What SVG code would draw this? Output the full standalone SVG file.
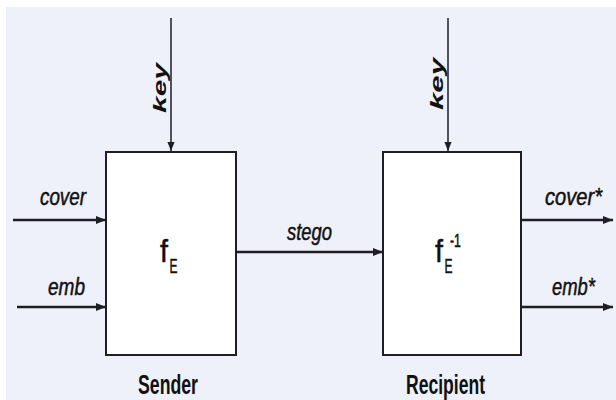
<svg xmlns="http://www.w3.org/2000/svg" width="616" height="400" viewBox="0 0 616 400">
<defs>
<marker id="ah" viewBox="0 0 10 10" refX="10" refY="5" markerWidth="4" markerHeight="4" markerUnits="strokeWidth" orient="auto"><path d="M0,1 L10,5 L0,9 Z" fill="#1e1e24"/></marker>
<marker id="ahk" viewBox="0 0 10 10" refX="10" refY="5" markerWidth="6" markerHeight="6" markerUnits="strokeWidth" orient="auto"><path d="M0,1 L10,5 L0,9 Z" fill="#1e1e24"/></marker>
</defs>
<style>
.box{fill:#ffffff;stroke:#1e1e24;stroke-width:2}
.ln{stroke:#1e1e24;stroke-width:2.5;fill:none;marker-end:url(#ah)}
.kl{stroke:#1e1e24;stroke-width:1.5;fill:none;marker-end:url(#ahk)}
.lb{font-family:"Liberation Sans",Arial,sans-serif;font-style:italic;font-size:24px;fill:#111;stroke:#111;stroke-width:0.5}
.kt{font-family:"Liberation Sans",Arial,sans-serif;font-style:italic;font-weight:bold;font-size:19px;fill:#111}
.nm{font-family:"Liberation Sans",Arial,sans-serif;font-weight:bold;font-size:27px;fill:#111}
.fn{font-family:"Liberation Sans",Arial,sans-serif;fill:#111;stroke:#111;stroke-width:0.5}
</style>
<rect x="0" y="0" width="616" height="400" fill="#ffffff"/>
<rect x="6" y="7" width="610" height="393" fill="#eef0fa"/>
<g id="sender">
<rect class="box" x="106" y="152" width="130" height="203"/>
<text class="fn" x="160" y="262" font-size="32" textLength="8" lengthAdjust="spacingAndGlyphs">f</text>
<text class="fn" x="169.5" y="273" font-size="20" textLength="8" lengthAdjust="spacingAndGlyphs">E</text>
<text class="nm" x="138" y="394" textLength="60" lengthAdjust="spacingAndGlyphs">Sender</text>
</g>
<g id="recipient">
<rect class="box" x="383" y="152" width="138" height="203"/>
<text class="fn" x="435" y="262" font-size="32" textLength="8" lengthAdjust="spacingAndGlyphs">f</text>
<text class="fn" x="444.5" y="273" font-size="20" textLength="8" lengthAdjust="spacingAndGlyphs">E</text>
<text class="fn" x="450" y="247" font-size="18" textLength="11" lengthAdjust="spacingAndGlyphs">-1</text>
<text class="nm" x="406" y="394" textLength="79" lengthAdjust="spacingAndGlyphs">Recipient</text>
</g>
<g id="connectors">
<line class="kl" x1="171" y1="18" x2="171" y2="151"/>
<line class="kl" x1="448" y1="18" x2="448" y2="151"/>
<line class="ln" x1="13" y1="220" x2="106" y2="220"/>
<line class="ln" x1="17" y1="307" x2="106" y2="307"/>
<line class="ln" x1="236" y1="252" x2="383" y2="252"/>
<line class="ln" x1="521" y1="220" x2="613" y2="220"/>
<line class="ln" x1="521" y1="307" x2="613" y2="307"/>
<text class="lb" x="40" y="205" textLength="46" lengthAdjust="spacingAndGlyphs">cover</text>
<text class="lb" x="48" y="295" textLength="37" lengthAdjust="spacingAndGlyphs">emb</text>
<text class="lb" x="287" y="240" textLength="45" lengthAdjust="spacingAndGlyphs">stego</text>
<text class="lb" x="545" y="205" textLength="57" lengthAdjust="spacingAndGlyphs">cover*</text>
<text class="lb" x="552" y="295" textLength="43" lengthAdjust="spacingAndGlyphs">emb*</text>
<text class="kt" transform="translate(166,113) rotate(-90)" textLength="50" lengthAdjust="spacingAndGlyphs">key</text>
<text class="kt" transform="translate(443,110) rotate(-90)" textLength="52" lengthAdjust="spacingAndGlyphs">key</text>
</g>
</svg>
